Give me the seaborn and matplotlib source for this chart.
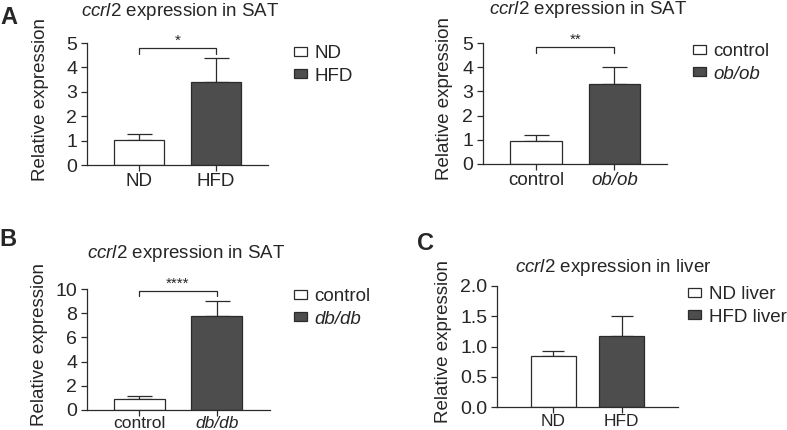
import seaborn as sns
import matplotlib.pyplot as plt
import numpy as np
import pandas as pd

# panel A (left): ND vs HFD
a1_groups = ['ND', 'HFD']
a1_values = [1.02, 3.40]
a1_sem = [0.27, 1.00]
a1_stars = '*'
a1_bracket = [4.55, 4.80]

# panel A (right): control vs ob/ob
a2_groups = ['control', 'ob/ob']
a2_values = [0.97, 3.30]
a2_sem = [0.21, 0.72]
a2_stars = '**'
a2_bracket = [4.60, 4.83]

# panel B: control vs db/db
b_groups = ['control', 'db/db']
b_values = [0.95, 7.80]
b_sem = [0.23, 1.20]
b_stars = '****'
b_bracket = [9.40, 9.86]

# panel C: liver
c_groups = ['ND', 'HFD']
c_legend = ['ND liver', 'HFD liver']
c_values = [0.85, 1.18]
c_sem = [0.08, 0.32]

W, H = 787, 430
sns.set_style('white')
plt.rcParams['font.family'] = ['Liberation Sans', 'DejaVu Sans']
plt.rcParams['mathtext.fontset'] = 'custom'
plt.rcParams['mathtext.it'] = 'Liberation Sans:italic'
plt.rcParams['mathtext.rm'] = 'Liberation Sans'

fig = plt.figure(figsize=(W / 100, H / 100), dpi=100)
INK = '#2b2b2b'


def px_box(l, t, r, b):
    return [l / W, 1 - b / H, (r - l) / W, (b - t) / H]


def px(x, y):
    return x / W, 1 - y / H


def panel(box, groups, values, sem, ylim, yticks, xlim, width, title, title_xy,
          legend_labels, legend_xy, ylab_x, italic_second=False, stars=None,
          bracket=None, capsize=9, fmt=None, xsize=13.5, xpad=1.5):
    ax = fig.add_axes(px_box(*box))
    df = pd.DataFrame({'group': groups, 'value': values})
    sns.barplot(data=df, x='group', y='value', hue='group',
                palette=['white', '#4d4d4d'], edgecolor=INK,
                linewidth=0.9, width=width, legend=False, ax=ax, zorder=2)
    ax.errorbar(range(len(groups)), values, yerr=[np.zeros(len(sem)), sem],
                fmt='none', ecolor=INK, elinewidth=0.9, capsize=capsize,
                capthick=0.9, zorder=1)
    ax.set_xlim(*xlim)
    ax.set_ylim(*ylim)
    ax.set_yticks(yticks)
    if fmt:
        ax.set_yticklabels([fmt.format(t) for t in yticks])
    sns.despine(ax=ax)
    for s in ['left', 'bottom']:
        ax.spines[s].set_linewidth(0.9)
        ax.spines[s].set_color(INK)
    ax.tick_params(axis='both', direction='out', length=4, width=0.9,
                   color=INK, left=True, bottom=True)
    ax.tick_params(axis='y', labelsize=14, pad=3)
    ax.tick_params(axis='x', labelsize=xsize, pad=xpad)
    if italic_second:
        ax.get_xticklabels()[1].set_style('italic')
    ax.set_xlabel('')
    ax.set_ylabel('Relative expression', fontsize=13.5)
    ax.yaxis.set_label_coords(ylab_x, 0.54)

    if stars:
        ax.plot([0, 0, 1, 1], [bracket[0], bracket[1], bracket[1], bracket[0]],
                color=INK, lw=0.9, clip_on=False)
        ax.text(0.5, bracket[1], stars, ha='center', va='bottom', fontsize=11,
                clip_on=False)

    fig.text(*px(*title_xy), title, ha='center', va='center', fontsize=13.5)

    handles = ax.patches[:2]
    leg = ax.legend(handles, legend_labels, loc='upper left',
                    bbox_to_anchor=px(*legend_xy), bbox_transform=fig.transFigure,
                    frameon=False, fontsize=13.5, handlelength=0.7,
                    handleheight=0.35, handletextpad=0.4, labelspacing=0.3,
                    borderpad=0, borderaxespad=0)
    if italic_second:
        leg.get_texts()[1].set_style('italic')
    return ax


title_sat = r'$\it{ccrl2}$ expression in SAT'
title_liver = r'$\it{ccrl2}$ expression in liver'

panel((87, 43, 268, 165), a1_groups, a1_values, a1_sem, (0, 5), range(6),
      (-0.675, 1.675), 0.65, title_sat, (180, 11), a1_groups, (294, 45), -0.21,
      stars=a1_stars, bracket=a1_bracket)

panel((483, 43, 667, 164), a2_groups, a2_values, a2_sem, (0, 5), range(6),
      (-0.675, 1.67), 0.66, title_sat, (588, 9), a2_groups, (693, 43), -0.163,
      italic_second=True, stars=a2_stars, bracket=a2_bracket)

panel((87, 289, 270, 410), b_groups, b_values, b_sem, (0, 10), range(0, 11, 2),
      (-0.675, 1.69), 0.66, title_sat, (186, 254), b_groups, (294, 288), -0.213,
      italic_second=True, stars=b_stars, bracket=b_bracket, xsize=12.5, xpad=0.5)

panel((497, 286, 678, 407), c_groups, c_values, c_sem, (0, 2),
      [0, 0.5, 1.0, 1.5, 2.0], (-0.83, 1.83), 0.66, title_liver, (613, 267),
      c_legend, (688, 286), -0.249, capsize=8, fmt='{:.1f}', xsize=12.5, xpad=1)

fig.text(*px(9, 17), 'A', ha='center', va='center', fontsize=17, weight='bold')
fig.text(*px(8, 239), 'B', ha='center', va='center', fontsize=17, weight='bold')
fig.text(*px(426, 243), 'C', ha='center', va='center', fontsize=17,
         weight='bold')

fig.savefig('out.png', dpi=100)
